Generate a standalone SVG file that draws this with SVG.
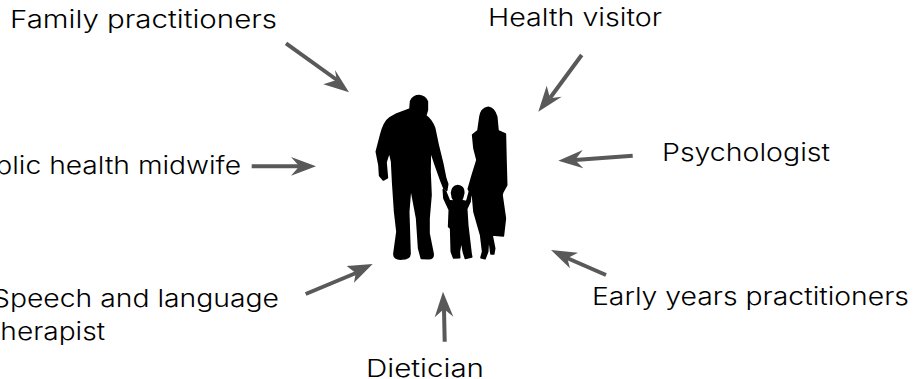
<svg xmlns="http://www.w3.org/2000/svg" width="913" height="379" viewBox="0 0 913 379">
<style>
text{font-family:"Inter","Noto Sans",sans-serif;font-size:24px;font-weight:300;fill:#000}
.l{fill:none;stroke:#595959;stroke-width:4}
.h{fill:#595959;stroke:none}
.s{fill:#000;stroke:#000;stroke-width:5;stroke-linejoin:round}
</style>
<rect width="913" height="379" fill="#fff"/>
<g id="connectors">
<path class="l" d="M286 43.3L337 80"/><path class="h" d="M349 92.3L335 70L336.7 80L323.3 84.3Z"/>
<path class="l" d="M251.7 166.3H300"/><path class="h" d="M316 166.3L291 157L299.3 166.3L291 175.7Z"/>
<path class="l" d="M581.7 55L550 98"/><path class="h" d="M538.3 111.7L546.7 85.7L550 98.3L561.7 96.7Z"/>
<path class="l" d="M632.7 155.7L575 160"/><path class="h" d="M558.3 160.7L582.7 150L575 160L583.3 168.3Z"/>
<path class="l" d="M305.7 294L356 273"/><path class="h" d="M372.7 264L346.7 266L355.7 273L354 282.7Z"/>
<path class="l" d="M444.7 341.7L444 309"/><path class="h" d="M443 291.7L434.7 317.3L444 309L453.3 316.7Z"/>
<path class="l" d="M606 275L567 258"/><path class="h" d="M551 250L578 252.7L567.3 258.3L570 268.3Z"/>
</g>
<g id="family" transform="translate(360 85) scale(.33333)">
<path class="s" d="M150 72L152 48Q160 32 178 32Q196 34 202 50L202 75L197 92Q215 104 224 130L234 178L248 235L257 280L263 297L260 316L252 310L243 288L226 240L211 195L210 260L213 330L207 400L207 445L219 505Q222 521 205 521L184 520L176 490L170 400L152 305L146 380L150 505Q150 522 126 522Q100 524 102 505L111 440L104 380L98 290L95 230L88 200L78 232L82 278L70 285L59 272L57 240L49 200L62 150Q72 110 90 98L110 87Z"/>
<path class="s" d="M385 67Q364 70 360 95L354 137L338 150L342 190L351 225L337 270L325 312L338 335L342 380L362 450L368 500L363 518L375 521L383 500L386 450L393 507L401 507L404 490L396 450L430 453L436 400L426 330L428 322L440 300L438 230L436 147L414 137L410 95Q403 70 385 67Z"/>
<path class="s" d="M293 302Q313 304 311 325Q308 340 304 347L320 350L329 317L333 322L330 350L320 372L323 420L333 505L335 516L316 520L310 500L304 465L298 500L299 518L281 519L274 500L272 430L266 425L268 375L252 340L250 314L257 320L268 347L284 349Q274 335 275 322Q277 304 293 302Z"/>
</g>
<g id="n1"><text x="10" y="28" textLength="267" lengthAdjust="spacingAndGlyphs">Family practitioners</text></g>
<g id="n2"><text x="488" y="26" textLength="174" lengthAdjust="spacingAndGlyphs">Health visitor</text></g>
<g id="n3"><text x="662" y="161" textLength="168" lengthAdjust="spacingAndGlyphs">Psychologist</text></g>
<g id="n4"><text x="-39" y="174" textLength="280" lengthAdjust="spacingAndGlyphs">Public health midwife</text></g>
<g id="n5"><text x="-8" y="307" textLength="287" lengthAdjust="spacingAndGlyphs">Speech and language</text><text x="-8" y="340" textLength="113" lengthAdjust="spacingAndGlyphs">therapist</text></g>
<g id="n6"><text x="366" y="377" textLength="118" lengthAdjust="spacingAndGlyphs">Dietician</text></g>
<g id="n7"><text x="592" y="305" textLength="317" lengthAdjust="spacingAndGlyphs">Early years practitioners</text></g>
</svg>
